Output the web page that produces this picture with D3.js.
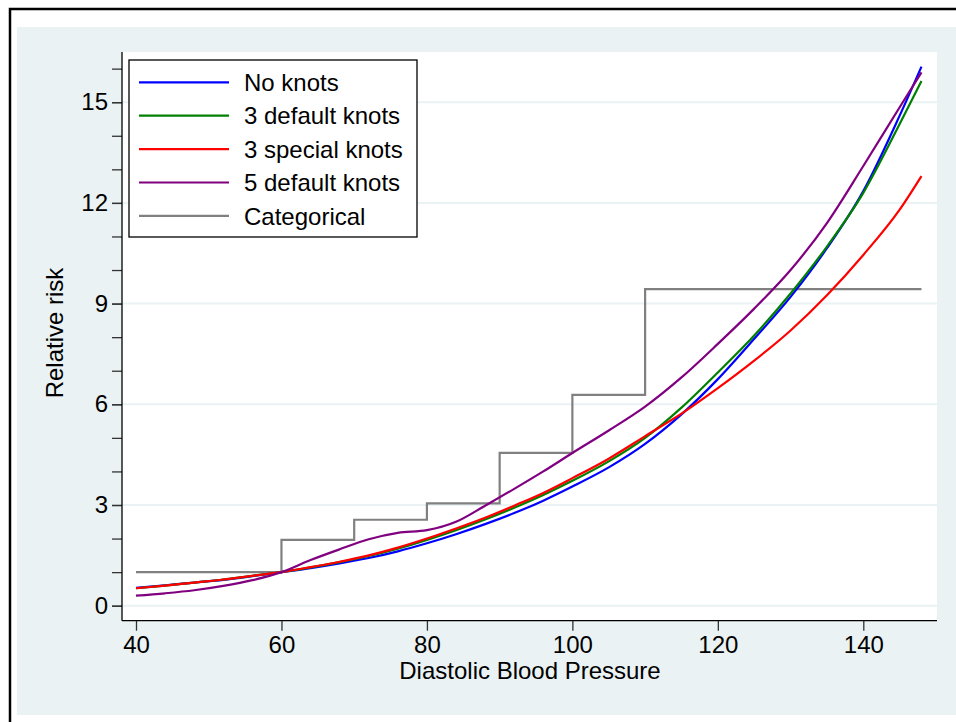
<!DOCTYPE html>
<html>
<head>
<meta charset="utf-8">
<script src="https://cdn.jsdelivr.net/npm/d3@7"></script>
<style>
  body { margin: 0; background: #fff; }
  svg { display: block; font-family: "Liberation Sans", Arial, sans-serif; }
</style>
</head>
<body>
<div id="chart"></div>
<script>
// blood pressure grid and fitted relative risks
var bp = [40, 44, 48, 52, 56, 60, 64, 68, 72, 76, 80, 84, 88, 92, 96, 100, 105, 110, 115, 120, 125, 130, 135, 140, 145, 148];
var noKnots =   [0.53, 0.61, 0.69, 0.77, 0.88, 1.0, 1.12, 1.26, 1.42, 1.62, 1.86, 2.13, 2.43, 2.76, 3.13, 3.55, 4.12, 4.82, 5.70, 6.75, 7.95, 9.2, 10.65, 12.35, 14.6, 16.06];
var default3 =  [0.52, 0.60, 0.69, 0.78, 0.89, 1.0, 1.14, 1.30, 1.48, 1.70, 1.96, 2.25, 2.57, 2.92, 3.30, 3.72, 4.30, 5.00, 5.90, 6.95, 8.05, 9.3, 10.7, 12.3, 14.35, 15.63];
var special3 =  [0.52, 0.60, 0.69, 0.78, 0.89, 1.0, 1.15, 1.31, 1.50, 1.73, 2.00, 2.30, 2.62, 2.98, 3.36, 3.80, 4.38, 5.05, 5.72, 6.48, 7.30, 8.2, 9.25, 10.45, 11.8, 12.8];
var default5 =  [0.30, 0.37, 0.46, 0.59, 0.76, 1.0, 1.36, 1.68, 1.98, 2.17, 2.25, 2.50, 2.98, 3.48, 4.00, 4.55, 5.22, 5.93, 6.80, 7.80, 8.85, 10.0, 11.4, 13.1, 14.85, 15.89];

// categorical estimates (step starts)
var catBp = [40, 60, 70, 80, 90, 100, 110, 148];
var catRisk = [1, 1.96, 2.56, 3.05, 4.55, 6.28, 9.43, 9.43];

var seriesNames = ["No knots", "3 default knots", "3 special knots", "5 default knots", "Categorical"];
var seriesColors = ["#0000ff", "#008000", "#ff0000", "#800080", "#808080"];

var xTicks = [40, 60, 80, 100, 120, 140];
var yTicks = [0, 3, 6, 9, 12, 15];
var yMinor = d3.range(0, 17);

var W = 956, H = 722;
var FS = 24;
var svg = d3.select("#chart").append("svg").attr("width", W).attr("height", H);

// outer frame + graph region
svg.append("rect").attr("x", 17).attr("y", 27).attr("width", W - 17).attr("height", 688).attr("fill", "#eaf2f3");
svg.append("rect").attr("x", 10).attr("y", 9).attr("width", W + 10).attr("height", H + 10)
  .attr("fill", "none").attr("stroke", "#000").attr("stroke-width", 2.5);

var pL = 122, pR = 937, pT = 52, pB = 620.7;
svg.append("rect").attr("x", pL).attr("y", pT).attr("width", pR - pL).attr("height", pB - pT).attr("fill", "#fff");

var x = d3.scaleLinear().domain([40, 140]).range([136, 863.3]);
var y = d3.scaleLinear().domain([0, 15]).range([605.7, 102.2]);

// grid
svg.append("g").selectAll("line").data(yTicks).enter().append("line")
  .attr("x1", pL).attr("x2", pR)
  .attr("y1", function(d) { return y(d); }).attr("y2", function(d) { return y(d); })
  .attr("stroke", "#eaf2f3").attr("stroke-width", 2);

// y axis
var yAxisMinor = svg.append("g").attr("transform", "translate(" + pL + ",0)")
  .call(d3.axisLeft(y).tickValues(yMinor).tickSize(10).tickFormat(""));
var yAxis = svg.append("g").attr("transform", "translate(" + pL + ",0)")
  .call(d3.axisLeft(y).tickValues(yTicks).tickSize(10).tickPadding(4));
[yAxisMinor, yAxis].forEach(function(g) {
  g.select(".domain").remove();
  g.selectAll(".tick line").attr("stroke", "#333").attr("stroke-width", 1.3);
});
yAxis.selectAll("text").attr("font-size", FS).attr("fill", "#000").attr("font-family", "Liberation Sans, Arial, sans-serif");
svg.append("line").attr("x1", pL).attr("x2", pL).attr("y1", pT).attr("y2", pB).attr("stroke", "#000").attr("stroke-width", 1.3);

// x axis
var xAxis = svg.append("g").attr("transform", "translate(0," + pB + ")")
  .call(d3.axisBottom(x).tickValues(xTicks).tickSize(10).tickPadding(5));
xAxis.select(".domain").remove();
xAxis.selectAll(".tick line").attr("stroke", "#333").attr("stroke-width", 1.3);
xAxis.selectAll("text").attr("font-size", FS).attr("fill", "#000").attr("font-family", "Liberation Sans, Arial, sans-serif");
svg.append("line").attr("x1", pL).attr("x2", pR).attr("y1", pB).attr("y2", pB).attr("stroke", "#000").attr("stroke-width", 1.3);

// titles
svg.append("text").attr("x", 530).attr("y", 679).attr("text-anchor", "middle")
  .attr("font-size", FS).text("Diastolic Blood Pressure");
svg.append("text").attr("transform", "translate(63,333) rotate(-90)").attr("text-anchor", "middle")
  .attr("font-size", FS).text("Relative risk");

// curves
var line = d3.line()
  .x(function(d) { return x(d[0]); })
  .y(function(d) { return y(d[1]); })
  .curve(d3.curveMonotoneX);

var fits = [noKnots, default3, special3, default5];
// categorical first so the fits draw on top
svg.append("path")
  .datum(catBp.map(function(b, i) { return [b, catRisk[i]]; }))
  .attr("d", d3.line().x(function(d) { return x(d[0]); }).y(function(d) { return y(d[1]); }).curve(d3.curveStepAfter))
  .attr("fill", "none").attr("stroke", seriesColors[4]).attr("stroke-width", 2.2);

fits.forEach(function(vals, k) {
  svg.append("path")
    .datum(bp.map(function(b, i) { return [b, vals[i]]; }))
    .attr("d", line)
    .attr("fill", "none")
    .attr("stroke", seriesColors[k])
    .attr("stroke-width", 2.2);
});

// legend
var lg = svg.append("g");
lg.append("rect").attr("x", 129).attr("y", 60).attr("width", 288).attr("height", 177)
  .attr("fill", "#fff").attr("stroke", "#000").attr("stroke-width", 1.3);
seriesNames.forEach(function(name, i) {
  var yy = 82.3 + i * 33.4;
  lg.append("line").attr("x1", 139).attr("x2", 229).attr("y1", yy).attr("y2", yy)
    .attr("stroke", seriesColors[i]).attr("stroke-width", 2.2);
  lg.append("text").attr("x", 244).attr("y", yy).attr("dy", "0.36em")
    .attr("font-size", FS).text(name);
});
</script>
</body>
</html>
